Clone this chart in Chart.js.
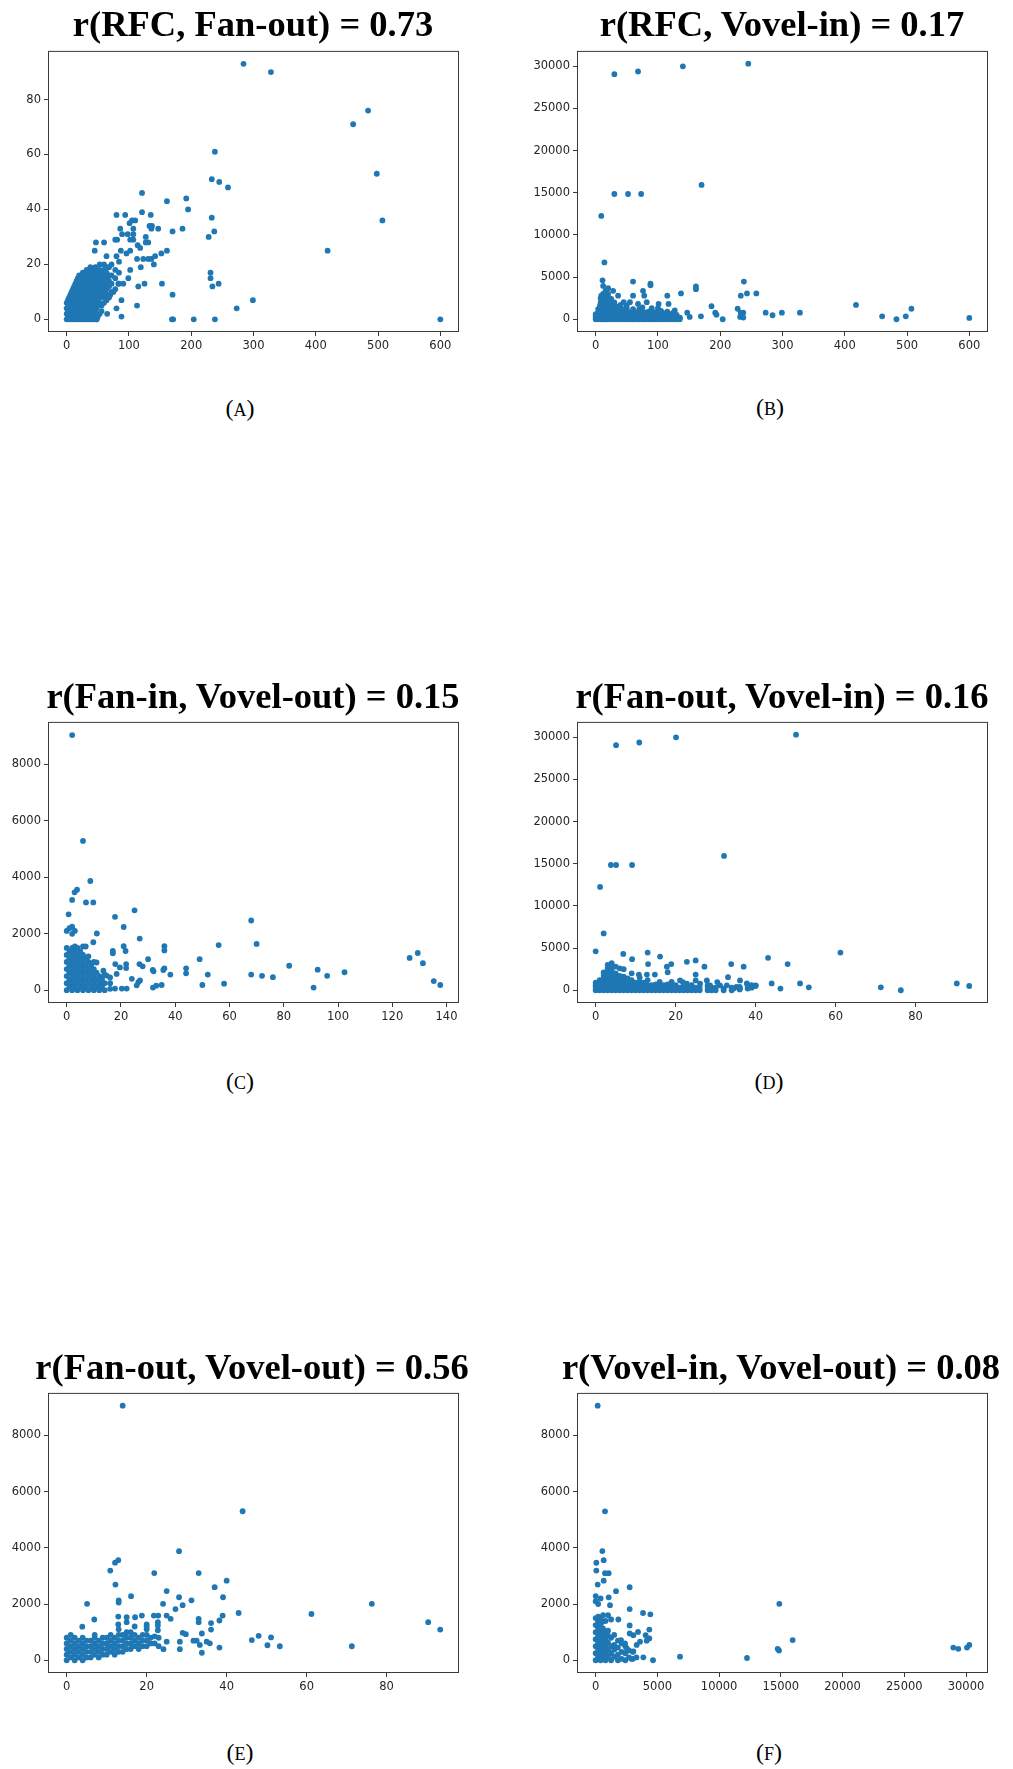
<!DOCTYPE html>
<html>
<head>
<meta charset="utf-8">
<script src="https://cdn.jsdelivr.net/npm/chart.js@4.4.0/dist/chart.umd.min.js"></script>
<style>
body { margin: 0; background: #fff; width: 1013px; height: 1769px; position: relative; overflow: hidden; }
.title { position: absolute; font-family: "Liberation Serif", "Times New Roman", serif; font-weight: bold;
  font-size: 36.5px; line-height: 36.5px; white-space: nowrap; color: #000; transform: translateX(-50%); }
.cap { position: absolute; font-family: "Liberation Serif", serif; font-size: 24px; line-height: 24px;
  white-space: nowrap; color: #000; transform: translateX(-50%); }
.cap span { font-size: 18px; }
canvas { position: absolute; }
</style>
</head>
<body>
<script>
// titles and sub-figure letters
var titles = ['r(RFC, Fan-out) = 0.73', 'r(RFC, Vovel-in) = 0.17', 'r(Fan-in, Vovel-out) = 0.15',
              'r(Fan-out, Vovel-in) = 0.16', 'r(Fan-out, Vovel-out) = 0.56', 'r(Vovel-in, Vovel-out) = 0.08'];
var letters = ['A', 'B', 'C', 'D', 'E', 'F'];

// (A) RFC vs Fan-out
var rfcFanOut = [
  [284,93],[328,90],[484,76],[460,71],[498,53],[507,36],[419,25],[238,61],[233,51],[245,50],[259,48],[121,46],
  [161,43],[192,44],[195,40],[233,37],[237,32],[228,30],[186,33],[170,32],[147,33],[135,38],[121,39],[94,38],
  [80,38],[161,25],[152,24],[142,23],[140,20],[153,13],[125,13],[115,12],[119,19],[113,5],[170,9],[231,17],
  [231,15],[234,12],[244,13],[273,4],[299,7],[169,0],[171,0],[204,0],[238,0],[600,0],[88,1],[80,4],[65,2],
  [88,7],[105,36],[110,36],[101,35],[107,33],[86,33],[98,31],[89,31],[107,31],[107,29],[102,29],[78,29],[81,29],
  [127,30],[127,28],[131,28],[133,34],[136,33],[137,34],[114,27],[118,26],[102,25],[87,25],[96,24],[80,23],
  [64,23],[47,28],[60,28],[45,25],[123,22],[131,22],[136,22],[113,22],[102,18],[99,15],[91,13],[83,13],[75,10],
  [70,9],[64,7],[56,3],[48,0],
  [0,0],[0,2],[0,4],[0,6],[2,1],[2,3],[2,5],[2,7],[4,0],[4,2],[4,4],[4,6],[4,8],[6,1],[6,3],[6,5],[6,7],[6,9],
  [8,0],[8,2],[8,4],[8,6],[8,8],[8,10],[10,1],[10,3],[10,5],[10,7],[10,9],[10,11],
  [12,0],[12,2],[12,4],[12,6],[12,8],[12,10],[12,12],[14,1],[14,3],[14,5],[14,7],[14,9],[14,11],[14,13],
  [16,0],[16,2],[16,4],[16,6],[16,8],[16,10],[16,12],[16,14],[18,1],[18,3],[18,5],[18,7],[18,9],[18,11],[18,13],[18,15],
  [20,0],[20,2],[20,4],[20,6],[20,8],[20,10],[20,12],[20,14],[20,16],[22,1],[22,3],[22,5],[22,7],[22,9],[22,11],[22,13],[22,15],
  [24,0],[24,2],[24,4],[24,6],[24,8],[24,10],[24,12],[24,14],[24,16],[26,1],[26,3],[26,5],[26,7],[26,9],[26,11],[26,13],[26,15],[26,17],
  [28,0],[28,2],[28,4],[28,6],[28,8],[28,10],[28,12],[28,14],[28,16],[30,1],[30,3],[30,5],[30,7],[30,9],[30,11],[30,13],[30,15],[30,17],
  [32,0],[32,2],[32,4],[32,6],[32,8],[32,10],[32,12],[32,14],[32,16],[32,18],[34,1],[34,3],[34,5],[34,7],[34,9],[34,11],[34,13],[34,15],[34,17],
  [36,0],[36,2],[36,4],[36,6],[36,8],[36,10],[36,12],[36,14],[36,16],[36,18],[38,1],[38,3],[38,5],[38,7],[38,9],[38,11],[38,13],[38,15],[38,17],[38,19],
  [40,0],[40,2],[40,4],[40,6],[40,8],[40,10],[40,12],[40,14],[40,16],[40,18],[42,1],[42,3],[42,5],[42,7],[42,9],[42,11],[42,13],[42,15],[42,17],
  [44,0],[44,2],[44,4],[44,6],[44,8],[44,10],[44,12],[44,14],[44,16],[44,18],[46,1],[46,3],[46,5],[46,7],[46,9],[46,11],[46,13],[46,15],[46,17],[46,19],
  [48,0],[48,4],[48,6],[48,8],[48,10],[48,12],[48,14],[48,16],[48,18],[50,1],[50,5],[50,7],[50,9],[50,11],[50,13],[50,15],[50,17],
  [53,2],[53,6],[53,8],[53,10],[53,12],[53,14],[53,16],[53,18],[53,20],[56,5],[56,9],[56,11],[56,13],[56,15],[56,17],
  [60,6],[60,8],[60,10],[60,12],[60,14],[60,16],[60,18],[60,20],[64,9],[64,11],[64,13],[64,15],[64,17],[64,19],
  [68,8],[68,12],[68,14],[68,16],[68,19],[72,10],[72,13],[72,16],[72,20],[78,11],[78,15],[78,18],[84,13],[84,17],[84,21]
];

// (B) RFC vs Vovel-in
var rfcVovelIn = [
  [30,29070],[68,29380],[140,30000],[245,30310],[170,15930],[30,14850],[52,14850],[73,14850],[9,12250],[14,6740],
  [11,4610],[60,4460],[88,4220],[88,4030],[161,3880],[161,3570],[137,3060],[115,2790],[238,4460],[243,3060],
  [258,3060],[233,2790],[186,1550],[192,780],[194,540],[204,0],[228,1240],[233,780],[237,780],[232,270],[237,190],
  [273,780],[284,470],[299,780],[328,780],[418,1700],[460,350],[483,0],[498,350],[507,1240],[600,160],[169,350],
  [151,270],[147,780],[135,160],[127,1050],[117,1820],[101,1820],[82,2020],[78,2790],[76,3370],[68,1820],[60,2790],
  [55,2020],[45,2020],[36,2790],[28,3370],[20,3680],[12,3950],[9,2790],[7,1630],[17,1630],
  [0,0],[0,300],[0,600],[4,0],[4,400],[4,800],[4,1200],[8,0],[8,500],[8,1000],[8,1500],[8,2000],[8,2500],
  [12,0],[12,500],[12,1000],[12,1500],[12,2000],[12,2500],[12,3000],[16,0],[16,500],[16,1000],[16,1500],[16,2000],[16,2500],[16,3000],[16,3400],
  [20,0],[20,500],[20,1000],[20,1500],[20,2000],[20,2500],[20,3000],[25,0],[25,500],[25,1000],[25,1500],[25,2000],[25,2400],
  [30,0],[30,500],[30,1000],[30,1500],[30,2000],[35,0],[35,500],[35,1000],[35,1500],[40,0],[40,400],[40,800],[40,1200],[40,1700],
  [45,0],[45,400],[45,800],[45,1200],[50,0],[50,400],[50,800],[50,1200],[50,1600],[55,0],[55,400],[55,800],
  [60,0],[60,400],[60,800],[60,1200],[65,0],[65,400],[65,800],[70,0],[70,400],[70,800],[70,1200],
  [75,0],[75,400],[75,800],[75,1400],[80,0],[80,400],[80,800],[85,0],[85,400],[85,900],[90,0],[90,400],[90,800],[90,1300],
  [95,0],[95,400],[95,800],[100,0],[100,400],[100,800],[100,1300],[105,0],[105,400],[105,1000],[110,0],[110,300],[110,700],
  [115,0],[115,400],[115,900],[120,0],[120,300],[120,600],[125,0],[125,300],[125,800],[130,0],[130,300],[130,500],[135,0],[135,200]
];

// (C) Fan-in vs Vovel-out
var fanInVovelOut = [
  [2,9040],[6,5290],[8.7,3870],[3.8,3560],[2.9,3470],[2,3200],[7.1,3110],[9.8,3110],[0.7,2690],[25,2830],[17.8,2600],
  [21,2240],[11.1,2010],[26.9,1830],[9.8,1700],[68,2470],[70,1640],[56,1600],[49,1100],[30,1100],[36,1560],[36,1410],
  [21,1560],[21.7,1390],[17,1390],[17,1310],[26.8,925],[28,845],[31.7,717],[32,670],[36,775],[35.6,717],[38.2,555],
  [44,775],[44,600],[52,555],[68,555],[72,509],[76,462],[82,867],[92.5,728],[96,509],[102.4,636],[126.4,1144],
  [129.4,1318],[131.3,960],[135.3,324],[137.7,185],[91,92],[58,231],[50,185],[35,185],[33,162],[31.8,92],[17.9,925],
  [18.4,578],[19.6,809],[21.9,925],[21.9,786],[24,405],[25.8,173],[26.4,289],[27,347],[17.8,58],[20.3,58],[22.1,58],
  [12,58],[12.9,462],[14.7,520],[13.5,694],[11,983],
  [0,0],[0,250],[0,500],[0,750],[0,1000],[0,1250],[0,1500],[0,2100],[1,125],[1,375],[1,625],[1,875],[1,1125],[1,1375],[1,2200],
  [2,0],[2,250],[2,500],[2,750],[2,1000],[2,1250],[2,1500],[2,2000],[2,2250],[3,125],[3,375],[3,625],[3,875],[3,1125],[3,1375],[3,1550],[3,2100],
  [4,0],[4,250],[4,500],[4,750],[4,1000],[4,1250],[4,1500],[5,125],[5,375],[5,625],[5,875],[5,1125],[5,1375],
  [6,0],[6,250],[6,500],[6,750],[6,1000],[6,1250],[6,1550],[7,125],[7,375],[7,625],[7,875],[7,1125],[7,1550],
  [8,0],[8,250],[8,500],[8,750],[8,1000],[8,1200],[9,125],[9,375],[9,625],[9,875],[10,0],[10,250],[10,500],[10,750],[10,1000],
  [11,125],[11,375],[11,625],[12,0],[12,250],[12,500],[13,125],[13,375],[14,0],[14,250],[14,550],[16,50],[16,250],[16,450]
];

// (D) Fan-out vs Vovel-in
var fanOutVovelIn = [
  [5.1,29070],[10.9,29380],[20.1,30000],[50.1,30310],[32.1,15930],[3.8,14850],[5.1,14850],[9.1,14850],[1.1,12250],
  [2,6740],[0,4610],[6.9,4300],[13,4460],[16.1,3990],[9.1,3680],[22.8,3370],[25,3530],[27.2,2790],[33.9,3100],[37,2790],
  [43.1,3840],[48,3100],[61.2,4460],[44,810],[46.2,190],[51.1,810],[53.3,350],[71.3,350],[76.3,0],[90.3,810],[93.4,500],
  [18.9,3100],[17.8,2790],[18,2130],[13.1,3100],[14.8,1860],[12.8,1860],[10.8,1860],[33.1,1550],[36.1,1160],[37.8,810],
  [38.2,390],[40,580],[30.4,970],[27.8,1160],[25,1860],[25,1160],[21.1,1160],[21.8,970],[22.8,775],[26.1,775],[28.6,580],
  [31.1,580],[32.8,580],[34.5,190],[35.2,390],[36.1,190],
  [0,0],[0,300],[0,600],[0,900],[1,0],[1,300],[1,600],[1,900],[1,1200],[2,0],[2,300],[2,600],[2,900],[2,1200],[2,1500],[2,1800],[2,2100],
  [3,0],[3,300],[3,600],[3,900],[3,1200],[3,1500],[3,1800],[3,2200],[3,2600],[3,3000],
  [4,0],[4,300],[4,600],[4,900],[4,1200],[4,1600],[4,2000],[4,2400],[4,2800],[4,3200],
  [5,0],[5,300],[5,600],[5,900],[5,1200],[5,1600],[5,2000],[5,2800],[6,0],[6,300],[6,600],[6,900],[6,1300],[6,1700],[6,2600],
  [7,0],[7,300],[7,600],[7,900],[7,1200],[7,1600],[7,2500],[8,0],[8,300],[8,600],[8,900],[8,1400],
  [9,0],[9,300],[9,600],[9,900],[9,1200],[9,2000],[10,0],[10,300],[10,600],[10,900],[11,0],[11,300],[11,600],[11,1000],[11,1500],
  [12,0],[12,300],[12,600],[12,900],[13,0],[13,300],[13,600],[13,1200],[14,0],[14,300],[14,600],[15,0],[15,300],[15,700],
  [16,0],[16,300],[16,600],[16,1000],[17,0],[17,300],[17,600],[18,0],[18,300],[18,700],[19,0],[19,300],[19,600],[19,1000],
  [20,0],[20,300],[20,600],[21,0],[21,300],[22,0],[22,300],[22,600],[23,0],[23,300],[24,0],[24,300],[24,600],
  [25,0],[25,300],[26,0],[26,300],[28,0],[28,300],[28,600],[29,0],[29,300],[30,0],[30,300],[32,0],[32,200],
  [34,0],[34,300],[36,100],[36,400],[38,200],[38,500],[39,300],[39,600],[40,500]
];

// (E) Fan-out vs Vovel-out
var fanOutVovelOut = [
  [14,9055],[44,5300],[28.1,3880],[33,3100],[21.9,3100],[12.9,3560],[12.1,3470],[10.9,3190],[12.2,2690],[40,2830],
  [37,2600],[39.1,2240],[28.1,2240],[31.2,2130],[25,2460],[16.1,2280],[13,2130],[13,2050],[5.1,2006],[24.1,2006],
  [29,1960],[27.2,1820],[43,1680],[76.3,2006],[61.2,1646],[90.4,1356],[93.4,1090],[71.3,498],[48,870],[46.3,719],
  [51.1,812],[50.2,533],[53.3,498],[33.8,267],[38.2,452],[39,1588],[38.2,1414],[36.1,1322],[36.1,1090],[33.8,951],
  [33,1472],[33,1356],[29,974],[29.8,927],[35,661],[35.8,603],[31.7,696],[32.5,696],[33.3,545],[28.3,661],[28.3,394],
  [25,661],[24.2,394],[26,1472],[25,1588],[22.9,1588],[21.8,1588],[22.8,1356],[22.8,1240],[22.8,1067],[18.8,1588],
  [17.1,1530],[15,1530],[15,1356],[12.9,1553],[12.9,1275],[20,1275],[20,1183],[6.9,1449],[3.9,1194],
  [0,0],[0,200],[0,400],[0,600],[0,800],[1,100],[1,300],[1,500],[1,700],[1,900],[2,0],[2,200],[2,400],[2,600],[2,800],
  [3,100],[3,300],[3,500],[3,700],[4,0],[4,200],[4,400],[4,600],[4,800],[5,100],[5,300],[5,500],[5,700],
  [6,100],[6,300],[6,500],[6,700],[7,200],[7,400],[7,600],[7,800],[7,900],[8,100],[8,300],[8,500],[8,700],
  [9,200],[9,400],[9,600],[9,800],[10,200],[10,400],[10,600],[10,800],[11,300],[11,500],[11,700],[11,900],
  [12,200],[12,400],[12,600],[12,800],[13,300],[13,500],[13,700],[13,900],[13,1100],[14,300],[14,500],[14,700],[14,900],
  [15,400],[15,600],[15,800],[15,1000],[16,400],[16,600],[16,800],[16,1000],[17,500],[17,700],[17,900],[17,1200],
  [18,400],[18,600],[18,800],[19,500],[19,700],[19,900],[20,500],[20,700],[20,900],[20,1100],[21,600],[21,800],
  [22,600],[22,850],[23,500],[23,800]
];

// (F) Vovel-in vs Vovel-out
var vovelInVovelOut = [
  [162,9055],[756,5298],[540,3884],[648,3559],[54,3467],[54,3188],[756,3096],[1053,3096],[648,2829],[162,2690],
  [1647,2458],[2754,2597],[1053,2238],[1161,1959],[0,2284],[2754,1820],[3834,1681],[4428,1634],[14877,2006],
  [15957,719],[14742,406],[14850,348],[12258,81],[6831,128],[4644,0],[28971,452],[29376,406],[30078,452],[30267,545],
  [1836,1449],[2754,1240],[2754,951],[3051,893],[3429,1009],[4050,893],[4347,1090],[4347,777],[4131,696],[3591,661],
  [3321,545],[3051,313],[3861,104],[2052,719],[2376,603],[2511,429],[2916,46],
  [0,0],[0,250],[0,500],[0,750],[0,1000],[0,1250],[0,1500],[0,2100],[200,125],[200,375],[200,625],[200,875],[200,1125],[200,1375],[200,1550],[200,2000],
  [400,0],[400,250],[400,500],[400,750],[400,1000],[400,1250],[400,1500],[400,2200],[600,125],[600,375],[600,625],[600,875],[600,1125],[600,1375],[600,1600],
  [800,0],[800,250],[800,500],[800,750],[800,1000],[800,1400],[1000,125],[1000,375],[1000,625],[1000,875],[1000,1050],[1000,1600],
  [1250,0],[1250,250],[1250,500],[1250,800],[1250,1450],[1500,125],[1500,375],[1500,550],[1500,900],[1800,0],[1800,200],[1800,450],[1800,700],
  [2100,50],[2100,300],[2100,600],[2400,0],[2400,250],[2400,500],[2700,100],[2700,350],[3000,50],[3000,300],[3300,100]
];

// tick labels and axis ranges per panel
var ticksRfc = [0, 100, 200, 300, 400, 500, 600];
var ticksFanOut = [0, 20, 40, 60, 80];
var ticksVovelIn = [0, 5000, 10000, 15000, 20000, 25000, 30000];
var ticksFanIn = [0, 20, 40, 60, 80, 100, 120, 140];
var ticksVovelOut = [0, 2000, 4000, 6000, 8000];
var rangeRfc = [-30, 630];
var rangeFanOut = [-4.6, 97.7];
var rangeVovelIn = [-1515, 31825];
var rangeFanIn = [-6.9, 144.6];
var rangeVovelOut = [-453, 9508];

var panels = [
  { data: rfcFanOut, xr: rangeRfc, yr: rangeFanOut, xt: ticksRfc, yt: ticksFanOut },
  { data: rfcVovelIn, xr: rangeRfc, yr: rangeVovelIn, xt: ticksRfc, yt: ticksVovelIn },
  { data: fanInVovelOut, xr: rangeFanIn, yr: rangeVovelOut, xt: ticksFanIn, yt: ticksVovelOut },
  { data: fanOutVovelIn, xr: [-4.67, 98.1], yr: rangeVovelIn, xt: ticksFanOut, yt: ticksVovelIn },
  { data: fanOutVovelOut, xr: [-4.67, 98.1], yr: rangeVovelOut, xt: ticksFanOut, yt: ticksVovelOut },
  { data: vovelInVovelOut, xr: [-1513, 31780], yr: rangeVovelOut, xt: ticksVovelIn, yt: ticksVovelOut }
];

// layout: plot frame [left, top, right, bottom], title baseline, caption centre
var frames = [[48,47,459,332],[577,47,988,332],[48,718,459,1003],[577,718,988,1003],[48,1389,459,1673],[577,1389,988,1673]];
var titleX = [253, 782, 253, 782, 252, 781];
var titleBase = [36.7, 36.7, 708.3, 708.3, 1380, 1380];
var capPos = [[240,409],[770,408],[240,1082],[769,1082],[240,1753],[769,1753]];

var padL = 54, padT = 6, padR = 8, padB = 30;

var framePlugin = {
  id: 'frame',
  afterDatasetsDraw: function (chart) {
    var a = chart.chartArea, ctx = chart.ctx;
    ctx.save();
    ctx.strokeStyle = '#3a3a3a';
    ctx.lineWidth = 1;
    ctx.strokeRect(a.left + 0.5, a.top + 0.5, a.right - a.left - 1, a.bottom - a.top - 1);
    ctx.restore();
  }
};

function axis(range, ticks, isX) {
  return {
    type: 'linear',
    min: range[0],
    max: range[1],
    afterBuildTicks: function (scale) {
      scale.ticks = ticks.map(function (v) { return { value: v }; });
    },
    afterFit: function (scale) {
      if (isX) scale.height = padB; else scale.width = padL;
    },
    grid: { display: true, drawOnChartArea: false, drawTicks: true, tickLength: 4, color: '#3a3a3a' },
    border: { display: false },
    ticks: {
      padding: 3,
      color: '#262626',
      font: { family: 'DejaVu Sans', size: 11.5 },
      maxRotation: 0,
      autoSkip: false,
      callback: function (v) { return String(v); }
    }
  };
}

panels.forEach(function (p, i) {
  var f = frames[i];
  var w = f[2] - f[0] + padL + padR, h = f[3] - f[1] + padT + padB;
  var cv = document.createElement('canvas');
  cv.width = w; cv.height = h;
  cv.style.left = (f[0] - padL) + 'px';
  cv.style.top = (f[1] - padT) + 'px';
  cv.style.width = w + 'px'; cv.style.height = h + 'px';
  document.body.appendChild(cv);

  var t = document.createElement('div');
  t.className = 'title';
  t.textContent = titles[i];
  t.style.left = titleX[i] + 'px';
  t.style.top = (titleBase[i] - 30.6) + 'px';
  document.body.appendChild(t);

  var c = document.createElement('div');
  c.className = 'cap';
  c.innerHTML = '(<span>' + letters[i] + '</span>)';
  c.style.left = capPos[i][0] + 'px';
  c.style.top = (capPos[i][1] - 13) + 'px';
  document.body.appendChild(c);

  new Chart(cv.getContext('2d'), {
    type: 'scatter',
    data: {
      datasets: [{
        data: p.data.map(function (d) { return { x: d[0], y: d[1] }; }),
        backgroundColor: '#1f77b4',
        borderWidth: 0,
        pointRadius: 2.9,
        pointHoverRadius: 2.9
      }]
    },
    options: {
      responsive: false,
      animation: false,
      devicePixelRatio: 1,
      layout: { padding: { left: 0, top: padT, right: padR, bottom: 0 } },
      plugins: { legend: { display: false }, tooltip: { enabled: false }, title: { display: false } },
      scales: { x: axis(p.xr, p.xt, true), y: axis(p.yr, p.yt, false) }
    },
    plugins: [framePlugin]
  });
});
</script>
</body>
</html>
